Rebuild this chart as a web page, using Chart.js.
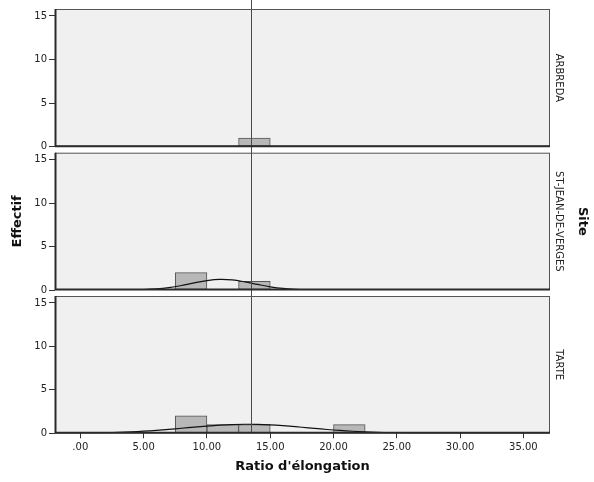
<!DOCTYPE html>
<html><head><meta charset="utf-8">
<script src="https://cdn.jsdelivr.net/npm/chart.js@4.4.1/dist/chart.umd.min.js"></script>
<style>
html,body{margin:0;padding:0;background:#fff;}
#wrap{position:relative;width:594px;height:482px;overflow:hidden;background:#fff;}
canvas{position:absolute;left:0;}
</style></head><body>
<div id="wrap">
<canvas id="c1" width="594" height="150" style="top:0px;width:594px;height:150px"></canvas>
<canvas id="c2" width="594" height="143" style="top:150px;width:594px;height:143px"></canvas>
<canvas id="c3" width="594" height="189" style="top:293px;width:594px;height:189px"></canvas>
</div>
<script>
// ---- data ----
const sites = ['ARBREDA', 'ST-JEAN-DE-VERGES', 'TARTE'];
const binStart = [0, 2.5, 5, 7.5, 10, 12.5, 15, 17.5, 20, 22.5, 25, 27.5, 30, 32.5, 35];
const binWidth = 2.5;
const countArbreda = [0, 0, 0, 0, 0, 1, 0, 0, 0, 0, 0, 0, 0, 0, 0];
const countStJean  = [0, 0, 0, 2, 0, 1, 0, 0, 0, 0, 0, 0, 0, 0, 0];
const countTarte   = [0, 0, 0, 2, 1, 1, 0, 0, 1, 0, 0, 0, 0, 0, 0];
const meanValue = 13.5;
const curveX = [-2,-1,0,1,2,3,4,5,6,7,8,9,10,11,12,13,14,15,16,17,18,19,20,21,22,23,24,25,26,27,28,29,30,31,32,33,34,35,36,37];
const curveStJean = [0,0,0,0,0.001,0.005,0.016,0.05,0.128,0.28,0.52,0.82,1.08,1.22,1.16,0.93,0.64,0.37,0.18,0.074,0.026,0.008,0.002,0,0,0,0,0,0,0,0,0,0,0,0,0,0,0,0,0];
const curveTarte = [0.007,0.013,0.024,0.041,0.068,0.109,0.166,0.242,0.338,0.452,0.578,0.709,0.833,0.936,1.008,1.039,1.026,0.969,0.877,0.760,0.631,0.501,0.381,0.278,0.194,0.129,0.083,0.051,0.030,0.017,0.009,0.005,0.002,0.001,0,0,0,0,0,0];
const yTicks = [0, 5, 10, 15];
const xTickStep = 5;
const xMin = -2, xMax = 37.1, yMax = 15.8;

const FONT = 'DejaVu Sans';
Chart.defaults.font.family = FONT;
Chart.defaults.font.size = 10;
Chart.defaults.color = '#222';

const panelPlugin = {
  id: 'panel',
  beforeDraw(chart) {
    const {ctx, chartArea: a} = chart;
    ctx.save();
    ctx.fillStyle = '#f0f0f0';
    ctx.fillRect(a.left, a.top, a.right - a.left, a.bottom - a.top);
    ctx.restore();
  },
  afterDatasetsDraw(chart, args, opts) {
    const {ctx, chartArea: a} = chart;
    const x = Math.round(chart.scales.x.getPixelForValue(meanValue)) + 0.5;
    ctx.save();
    ctx.strokeStyle = '#4a4a4a';
    ctx.lineWidth = 1;
    ctx.beginPath();
    ctx.moveTo(x, 0);
    ctx.lineTo(x, opts.toEdge ? chart.height : a.bottom);
    ctx.stroke();
    ctx.restore();
  },
  afterDraw(chart, args, opts) {
    const {ctx, chartArea: a} = chart;
    ctx.save();
    ctx.strokeStyle = '#555';
    ctx.lineWidth = 1;
    ctx.strokeRect(a.left + 0.5, a.top + 0.5, a.right - a.left - 1, a.bottom - a.top - 1);
    ctx.strokeStyle = '#2a2a2a';
    ctx.lineWidth = 2;
    ctx.beginPath();
    ctx.moveTo(a.left, a.bottom - 0.5);
    ctx.lineTo(a.right, a.bottom - 0.5);
    ctx.moveTo(a.left + 0.5, a.top);
    ctx.lineTo(a.left + 0.5, a.bottom);
    ctx.stroke();
    const mid = (a.top + a.bottom) / 2;
    ctx.fillStyle = '#222';
    ctx.textAlign = 'center';
    ctx.textBaseline = 'middle';
    ctx.font = '10px "' + FONT + '"';
    ctx.translate(a.right + 8.5, mid);
    ctx.rotate(Math.PI / 2);
    ctx.fillText(opts.label, 0, 0);
    ctx.restore();
    if (opts.site) {
      ctx.save();
      ctx.fillStyle = '#111';
      ctx.textAlign = 'center';
      ctx.textBaseline = 'middle';
      ctx.font = 'bold 13px "' + FONT + '"';
      ctx.translate(a.right + 32, mid);
      ctx.rotate(Math.PI / 2);
      ctx.fillText(opts.site, 0, 0);
      ctx.restore();
    }
  }
};

function makeChart(id, counts, curve, label, cfg) {
  const datasets = [];
  if (curve) {
    datasets.push({
      type: 'line',
      data: curveX.map((x, i) => ({x: x, y: curve[i]})),
      borderColor: '#111',
      borderWidth: 1.2,
      pointRadius: 0,
      tension: 0.35,
      fill: false,
      order: 1
    });
  }
  datasets.push({
    type: 'bar',
    data: binStart.map((b, i) => ({x: b + binWidth / 2, y: counts[i]})),
    backgroundColor: '#b8b8b8',
    borderColor: '#555',
    borderWidth: 1,
    borderSkipped: false,
    barPercentage: 1,
    categoryPercentage: 1,
    order: 2
  });
  return new Chart(document.getElementById(id), {
    type: 'bar',
    data: {datasets},
    plugins: [panelPlugin],
    options: {
      responsive: false,
      animation: false,
      events: [],
      layout: {autoPadding: false, padding: {top: cfg.padTop, bottom: cfg.padBottom, left: 0, right: 44}},
      plugins: {
        legend: {display: false},
        tooltip: {enabled: false},
        panel: {label: label, toEdge: cfg.toEdge, site: cfg.site || null}
      },
      scales: {
        x: {
          type: 'linear',
          min: xMin, max: xMax,
          offset: false,
          display: cfg.showX,
          border: {display: false},
          grid: {display: true, offset: false, drawOnChartArea: false, drawTicks: true, tickLength: 5, color: '#333', tickColor: '#333'},
          ticks: {
            stepSize: xTickStep, includeBounds: false, padding: 3, maxRotation: 0,
            color: '#222', font: {size: 10},
            callback: (v) => v === 0 ? '.00' : v.toFixed(2)
          },
          title: {
            display: cfg.showX,
            text: "Ratio d'élongation",
            color: '#111',
            font: {size: 13, weight: 'bold'},
            padding: {top: 0, bottom: 8}
          },
          afterFit: (s) => { if (cfg.showX) s.height = 48.7; s.paddingLeft = 0; s.paddingRight = 0; }
        },
        y: {
          type: 'linear',
          position: 'left',
          min: 0, max: yMax,
          border: {display: false},
          grid: {display: true, drawOnChartArea: false, drawTicks: true, tickLength: 6, color: '#333', tickColor: '#333'},
          afterBuildTicks: (s) => { s.ticks = yTicks.map(v => ({value: v})); },
          ticks: {padding: 2, color: '#222', font: {size: 10}},
          title: {
            display: !!cfg.yTitle,
            text: cfg.yTitle || '',
            color: '#111',
            font: {size: 13, weight: 'bold'},
            padding: {top: 9.5, bottom: 0}
          },
          afterFit: (s) => { s.width = 55; s.paddingTop = 0; s.paddingBottom = 0; }
        }
      }
    }
  });
}

makeChart('c1', countArbreda, null, sites[0], {padTop: 9, padBottom: 3.3, toEdge: true, showX: false});
makeChart('c2', countStJean, curveStJean, sites[1], {padTop: 2.7, padBottom: 3, toEdge: true, showX: false, yTitle: 'Effectif', site: 'Site'});
makeChart('c3', countTarte, curveTarte, sites[2], {padTop: 3, padBottom: 0, toEdge: false, showX: true});
</script>
</body></html>
